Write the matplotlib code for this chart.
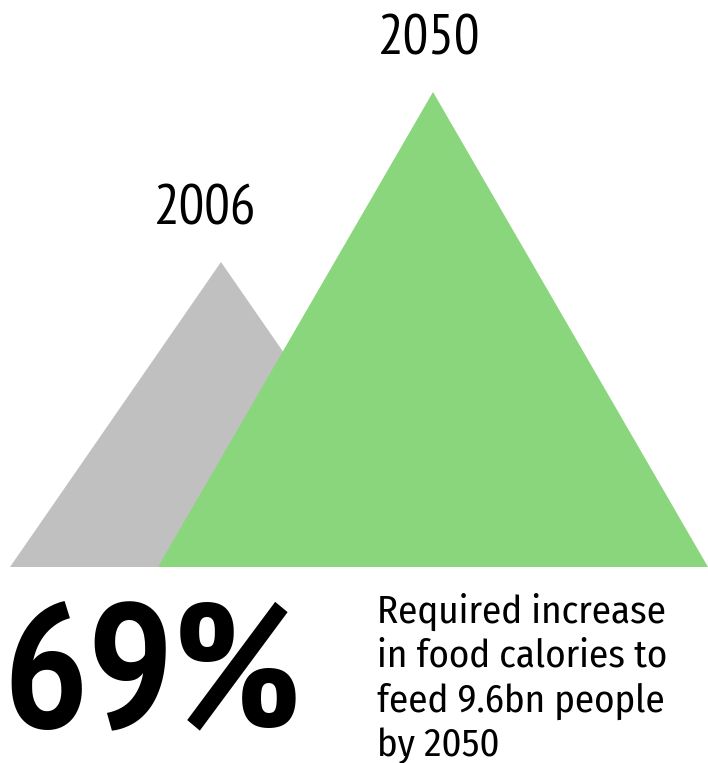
import matplotlib
matplotlib.use("Agg")
import matplotlib.pyplot as plt
from matplotlib.patches import Polygon

years = ["2006", "2050"]
heights = [305, 475]          # triangle heights, drawing units
colors = ["#c0c0c0", "#8ad67c"]
headline = "69%"
caption = ["Required increase", "in food calories to", "feed 9.6bn people", "by 2050"]

fam = ["PT Sans Narrow", "DejaVu Sans"]
cap_fam = ["Fira Sans Condensed", "DejaVu Sans"]

fig = plt.figure(figsize=(7.08, 7.63), dpi=100)
ax = fig.add_axes([0, 0, 1, 1])
ax.set_xlim(0, 708)
ax.set_ylim(763, 0)
ax.axis("off")

base_y = 567
centers = [221, 433]
half_w = [211, 275]
label_dx = [-16, -4]
for yr, h, c, cx, hw, dx in zip(years, heights, colors, centers, half_w, label_dx):
    tri = Polygon([(cx - hw, base_y), (cx, base_y - h), (cx + hw, base_y)],
                  closed=True, facecolor=c, edgecolor="none")
    ax.add_patch(tri)
    ax.text(cx + dx, base_y - h - 52, yr, ha="center", va="center",
            fontsize=41, family=fam, color="black")

ax.text(152, 683, headline, ha="center", va="center", fontsize=128,
        fontweight="bold", family=fam)

for i, line in enumerate(caption):
    ax.text(377, 612 + i * 44.5, line, ha="left", va="center", fontsize=28, family=cap_fam)

fig.savefig("out.png", dpi=100)
